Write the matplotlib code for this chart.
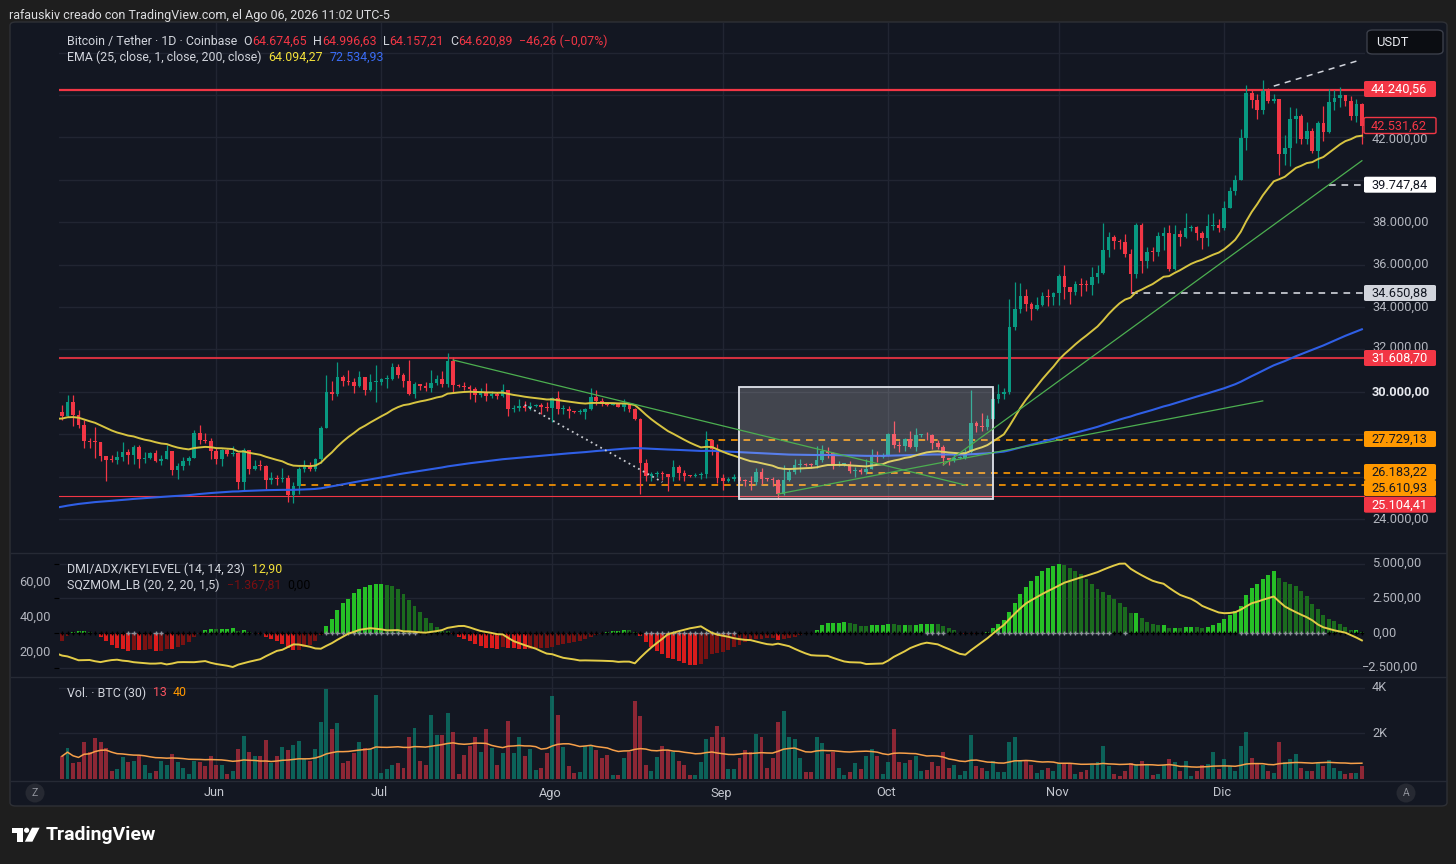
import numpy as np
import pandas as pd
import matplotlib
matplotlib.use("Agg")
import matplotlib.pyplot as plt
from matplotlib.patches import FancyBboxPatch, Rectangle, Polygon, Ellipse
from matplotlib.lines import Line2D

plt.rcParams['font.family'] = ['Roboto', 'DejaVu Sans']

# ---------------------------------------------------------------- data
# warm-up history (not visible, only feeds the indicators) 2023-03-25 .. 2023-05-03
first_open = 27480
warm_close = [27490, 27990, 27130, 27270, 28350, 28030, 28480,
              28460, 28200, 27800, 28170, 28180, 28040, 27920, 27950, 28330, 29650,
              30230, 29890, 30400, 30490, 30320, 30320, 29450, 30400, 28820, 28250,
              27280, 27820, 27590, 27520, 28300, 28420, 29480, 29340, 29250, 29230,
              28070, 28680, 29030]
warm_high = [28200, 28200, 28020, 27500, 28650, 29170, 28650,
             28800, 28530, 28490, 28430, 28750, 28180, 28110, 28170, 28460, 29770,
             30480, 30420, 30590, 31000, 30600, 30540, 30320, 30490, 30430, 29080,
             28360, 27900, 27850, 28000, 28380, 30020, 29890, 29600, 29460, 29970,
             29310, 28880, 29260]
warm_low = [27200, 27400, 26600, 26650, 27250, 27700, 27550,
            28250, 27900, 27250, 27660, 27850, 27740, 27800, 27880, 27800, 28180,
            29600, 29650, 29820, 29970, 30230, 30140, 29290, 29110, 28630, 28000,
            27130, 27150, 27370, 26960, 27220, 27270, 28400, 28900, 29100, 29100,
            27680, 27900, 28140]

# visible daily candles 2023-05-04 .. 2023-12-26
start_date = "2023-05-04"
close = [
    # May 4-31
    28850, 29530, 28900, 28450, 27680, 27640, 27620, 26990, 26800, 26780, 26920, 27180, 27030, 27400,
    26830, 26890, 27120, 26750, 26850, 27220, 26330, 26480, 26720, 26870, 28080, 27750, 27700, 27220,
    # Jun
    26820, 27250, 27070, 27120, 25740, 27240, 26350, 26500, 26480, 25850, 25940, 25900, 25920, 25120, 25580,
    26340, 26510, 26340, 26840, 28310, 30000, 29890, 30690, 30530, 30470, 30270, 30690, 30080, 30450, 30470,
    # Jul
    30590, 30620, 31160, 30770, 30500, 29900, 30350, 30290, 30170, 30420, 30620, 30390, 31470, 30320, 30290,
    30250, 30150, 29860, 29920, 29800, 29910, 29800, 30080, 29180, 29230, 29350, 29220, 29310, 29360, 29280, 29230,
    # Aug
    29700, 29180, 29190, 29110, 29050, 29060, 29180, 29770, 29570, 29430, 29400, 29420, 29300, 29420, 29170,
    28700, 26620, 26050, 26100, 26190, 26130, 25990, 26430, 26170, 26050, 26010, 26090, 26100, 27720, 27300, 25930,
    # Sep
    25800, 25870, 25970, 25810, 25780, 25750, 26240, 25900, 25890, 25830, 25160, 25840, 26220, 26530, 26600,
    26570, 26530, 26760, 27210, 27130, 26570, 26580, 26580, 26250, 26300, 26220, 26370, 27020, 26910, 26970,
    # Oct
    27990, 27500, 27430, 27790, 27410, 27950, 27970, 27940, 27590, 27390, 26870, 26760, 26860, 26860, 27160,
    28520, 28410, 28330, 28720, 29680, 29910, 29990, 33070, 33920, 34500, 34160, 33910, 34090, 34540, 34490, 34660,
    # Nov
    35440, 34940, 34730, 35080, 35050, 35040, 35420, 35620, 36700, 37310, 37130, 37060, 36490, 35550, 37880,
    36160, 36600, 36580, 37370, 37470, 35810, 37420, 37290, 37720, 37790, 37470, 37250, 37830, 37850, 37720,
    # Dec 1-26
    38690, 39460, 39970, 41980, 44080, 43770, 43290, 44170, 43720, 43790, 41240, 41490, 42890, 43020, 41940,
    42280, 41370, 42660, 42270, 43660, 43860, 43990, 43730, 43010, 43580, 42530]
high = [
    29370, 29850, 29840, 29150, 28650, 27830, 28330, 27640, 26970, 27040, 27190, 27650, 27280, 27480,
    27470, 27170, 27150, 27270, 27040, 27480, 27210, 26630, 26930, 26990, 28200, 28450, 28050, 27830,
    27350, 27300, 27300, 27450, 27130, 27360, 27120, 26800, 26770, 26530, 26200, 26090, 26400, 26070, 25750,
    26460, 26780, 26680, 26900, 28400, 30800, 30500, 31400, 30800, 31040, 30650, 31000, 30700, 30830, 31280,
    30660, 30780, 31380, 31330, 30880, 31500, 30450, 30390, 30440, 31040, 30800, 30990, 31820, 31640, 30390,
    30440, 30340, 30240, 30200, 30420, 30060, 29990, 30350, 30100, 29370, 29680, 29570, 29530, 29410, 29450, 29530,
    29740, 30050, 29400, 29320, 29110, 29170, 29240, 30180, 30100, 29700, 29540, 29460, 29450, 29670, 29450,
    29230, 28770, 26820, 26240, 26270, 26250, 26120, 26780, 26550, 26290, 26090, 26170, 26220, 28130, 27750, 27560,
    26130, 25980, 26120, 26090, 25880, 26050, 26410, 26400, 25950, 26000, 25900, 26540, 26400, 26850, 26850,
    26650, 26620, 27420, 27490, 27380, 27160, 26740, 26630, 26730, 26440, 26390, 26830, 27300, 27230, 27090,
    28060, 28600, 27670, 27830, 28130, 28290, 28020, 28100, 27990, 27730, 27480, 26830, 27100, 26960, 27290,
    30100, 28610, 28980, 28920, 30000, 30350, 30200, 34400, 35200, 35130, 34830, 34250, 34480, 34730, 34850, 34720,
    35580, 35980, 34950, 35250, 35380, 35280, 35900, 35990, 37970, 37520, 37410, 37230, 37430, 36750, 37980,
    37940, 36850, 36830, 37530, 37770, 37850, 37880, 37650, 38440, 37880, 37840, 37580, 38400, 38420, 38170,
    38990, 39680, 40220, 42400, 44480, 44300, 44040, 44730, 44350, 44040, 43800, 42100, 43430, 43410, 43090,
    42720, 42430, 42760, 43480, 44290, 44240, 44380, 43990, 43950, 43820, 43600]
low = [
    28670, 28800, 28400, 28300, 27350, 27350, 26870, 26750, 25800, 26700, 26600, 26750, 26580, 26580,
    26400, 26660, 26830, 26680, 26540, 26820, 26080, 25870, 26330, 26570, 26860, 27550, 27570, 26850,
    26600, 26510, 26960, 26960, 25400, 25370, 26130, 26300, 26330, 25400, 25660, 25620, 25740, 24820, 24750,
    25170, 26200, 26280, 26250, 26650, 28270, 29600, 29820, 30260, 30300, 29920, 30220, 29850, 30040, 29520,
    30330, 30200, 30580, 30630, 30210, 29850, 29710, 30080, 30050, 29970, 30300, 30250, 30250, 29960, 30250,
    30080, 29670, 29530, 29760, 29570, 29730, 29650, 29740, 28870, 29070, 29110, 29100, 29120, 29260, 28950, 29100,
    28580, 28950, 28960, 28760, 28980, 28960, 28700, 29120, 29370, 29350, 29340, 29360, 29260, 29100, 29050,
    28690, 25170, 25770, 25800, 25980, 25850, 25330, 25800, 25850, 25780, 25980, 25980, 25870, 25920, 27020, 25700,
    25350, 25760, 25810, 25650, 25580, 25380, 25600, 25650, 25810, 25580, 24920, 25140, 25770, 26130, 26240,
    26480, 26400, 26390, 26680, 26880, 26380, 26500, 26500, 26150, 25990, 26100, 26100, 26340, 26710, 26890,
    26950, 27330, 27180, 27230, 27370, 27200, 27850, 27720, 27300, 27300, 26560, 26550, 26690, 26810, 26820,
    27120, 28100, 28150, 28180, 28670, 29480, 29660, 29900, 32900, 33700, 33800, 33400, 33850, 34050, 34050, 34080,
    34100, 34360, 34120, 34580, 34500, 34750, 34550, 35110, 35540, 36350, 36750, 36730, 36350, 34650, 35360,
    35620, 35850, 36170, 36400, 36700, 35680, 35730, 36880, 37250, 37600, 37150, 36740, 36880, 37630, 37560,
    37620, 38650, 39280, 39970, 41420, 43380, 42850, 43100, 43600, 43600, 40240, 40680, 40660, 41720, 41680,
    41700, 41250, 40540, 41830, 42230, 43300, 43440, 43500, 42800, 42750, 41700]
volume = [
    1000, 1350, 700, 730, 1640, 1200, 1800, 1640, 1350, 360,
    440, 950, 730, 770, 1000, 600, 250, 330, 800, 600,
    1100, 730, 500, 220, 770, 730, 550, 1000, 630, 600,
    200, 330, 1300, 1900, 1200, 1000, 1000, 1700, 700, 1000,
    1400, 1250, 1500, 1650, 900, 800, 1300, 2500, 3950, 2200,
    2450, 700, 800, 1150, 1640, 1350, 1300, 3700, 250, 440,
    630, 700, 500, 1850, 2250, 770, 600, 2800, 1930, 1930,
    2900, 2050, 220, 1060, 1430, 1820, 1200, 2200, 1350, 600,
    1130, 2550, 1130, 1820, 1000, 1300, 400, 480, 1130, 3650,
    2800, 1380, 550, 250, 300, 1430, 1450, 1250, 900, 1030,
    190, 190, 900, 1200, 3400, 2760, 600, 360, 950, 1430,
    1250, 1180, 800, 600, 160, 160, 740, 1760, 1860, 2300,
    1860, 440, 440, 900, 1250, 1200, 1960, 1850, 480, 900,
    2500, 3000, 1820, 1760, 900, 300, 300, 1850, 1570, 1100,
    1180, 480, 160, 300, 700, 450, 1000, 1320, 1000, 220,
    730, 2200, 740, 700, 840, 1000, 360, 400, 730, 550,
    1200, 480, 630, 160, 330, 1930, 550, 480, 330, 800,
    300, 300, 1640, 1820, 770, 840, 630, 260, 400, 500,
    330, 700, 700, 700, 220, 300, 400, 630, 740, 1430,
    550, 220, 150, 360, 700, 650, 800, 630, 160, 220,
    630, 890, 740, 330, 800, 120, 360, 630, 650, 1180,
    450, 890, 550, 360, 1430, 2050, 900, 700, 630, 330,
    250, 1640, 740, 890, 1100, 500, 360, 330, 700, 550,
    840, 500, 360, 220, 250, 250, 550]

month_labels = ["Jun", "Jul", "Ago", "Sep", "Oct", "Nov", "Dic"]
month_dates = ["2023-06-01", "2023-07-01", "2023-08-01", "2023-09-01",
               "2023-10-01", "2023-11-01", "2023-12-01"]

red_levels = [44240.56, 31608.70, 25104.41]
orange_levels = [27729.13, 26183.22, 25610.93]
orange_from = ["2023-08-29", "2023-09-27", "2023-06-16"]
white_levels = [34650.88, 39747.84]
white_from = ["2023-11-14", "2023-12-20"]
green_lines = [(("2023-07-14", 31500), ("2023-10-15", 25600)),
               (("2023-09-11", 25180), ("2023-12-08", 29570)),
               (("2023-10-11", 26550), ("2023-12-26", 40900))]
dotted_line = (("2023-07-27", 29380), ("2023-08-21", 25740))
dashed_top = (("2023-12-10", 44420), ("2023-12-25", 45620))
box_dates = ("2023-09-04", "2023-10-20")
box_prices = (24940, 30230)
ema200_seed = 22500
# price-scale labels that stay readable next to the coloured tags
price_ticks = [24000, 30000, 32000, 34000, 36000, 38000, 42000]

# ---------------------------------------------------------------- helpers
W, HP = 1456, 864
RED, GREEN = '#f23645', '#089981'
BG = '#131722'
TXT = '#b2b5be'
AXFS = 9.2


def didx(d):
    return (pd.Timestamp(d) - pd.Timestamp(start_date)).days


def fmt(v, dec=2):
    s = f"{abs(v):,.{dec}f}".replace(",", "X").replace(".", ",").replace("X", ".")
    return ("\u2212" + s) if v < 0 else s


def fx(x):
    return x / W


def fy(y):
    return 1 - y / HP


fig = plt.figure(figsize=(W / 100, HP / 100), dpi=100)
fig.patch.set_facecolor('#1e1e1e')
renderer = fig.canvas.get_renderer()


def add_axes_px(x0, y0, x1, y1):
    a = fig.add_axes([fx(x0), fy(y1), (x1 - x0) / W, (y1 - y0) / HP])
    a.set_facecolor('none')
    for s in a.spines.values():
        s.set_visible(False)
    a.tick_params(left=False, right=False, bottom=False, top=False,
                  labelleft=False, labelbottom=False, labelright=False)
    return a


def ftext(x, y, s, **kw):
    kw.setdefault('va', 'center')
    kw.setdefault('ha', 'left')
    kw.setdefault('fontsize', AXFS)
    kw.setdefault('color', TXT)
    return fig.text(fx(x), fy(y), s, **kw)


def seq_text(x, y, parts, size):
    for s, c, gap in parts:
        t = ftext(x, y, s, color=c, fontsize=size)
        x += t.get_window_extent(renderer).width + gap


def fbox(x0, y0, x1, y1, fc, ec='none', lw=0, r=0.0015, z=5):
    p = FancyBboxPatch((fx(x0), fy(y1)), (x1 - x0) / W, (y1 - y0) / HP,
                       boxstyle=f'round,pad=0,rounding_size={r}', fc=fc, ec=ec, lw=lw,
                       transform=fig.transFigure, zorder=z)
    fig.add_artist(p)


# chart frame
fbox(10, 22, 1447, 806, BG, ec='#2e3036', lw=1.0, r=0.004, z=-10)

# ---------------------------------------------------------------- arrays
C_all = np.array(warm_close + close, float)
H_all = np.array(warm_high + high, float)
L_all = np.array(warm_low + low, float)
O_all = np.concatenate([[first_open], C_all[:-1]])
H_all = np.maximum(H_all, np.maximum(O_all, C_all))
L_all = np.minimum(L_all, np.minimum(O_all, C_all))
nw = len(warm_close)
x_all = np.arange(len(C_all)) - nw
vis = x_all >= 0
xs = x_all[vis]
O, H, L, Cc = O_all[vis], H_all[vis], L_all[vis], C_all[vis]
up = Cc >= O

# indicators
ema25 = pd.Series(C_all).ewm(span=25, adjust=False).mean().values
ema200 = np.empty_like(C_all)
e = ema200_seed
for i, c in enumerate(C_all):
    e = e + 2.0 / 201.0 * (c - e)
    ema200[i] = e

prevC = np.concatenate([[C_all[0]], C_all[:-1]])
tr = np.maximum.reduce([H_all - L_all, np.abs(H_all - prevC), np.abs(L_all - prevC)])


def rma(v, n):
    return pd.Series(v).ewm(alpha=1.0 / n, adjust=False).mean().values


upm = np.diff(H_all, prepend=H_all[0])
dnm = -np.diff(L_all, prepend=L_all[0])
pdm = np.where((upm > dnm) & (upm > 0), upm, 0.0)
mdm = np.where((dnm > upm) & (dnm > 0), dnm, 0.0)
atr = rma(tr, 14)
pdi = 100 * rma(pdm, 14) / atr
mdi = 100 * rma(mdm, 14) / atr
den = np.where(pdi + mdi == 0, 1, pdi + mdi)
adx = rma(100 * np.abs(pdi - mdi) / den, 14)

n = 20
sC = pd.Series(C_all)
basis = sC.rolling(n).mean()
dev = 1.5 * sC.rolling(n).std(ddof=0)
rangema = pd.Series(tr).rolling(n).mean()
upKC, loKC = basis + 1.5 * rangema, basis - 1.5 * rangema
upBB, loBB = basis + dev, basis - dev
sqz_on = ((loBB > loKC) & (upBB < upKC)).values
sqz_off = ((loBB < loKC) & (upBB > upKC)).values
hh = pd.Series(H_all).rolling(n).max()
ll = pd.Series(L_all).rolling(n).min()
delta = sC - ((hh + ll) / 2 + basis) / 2
xx = np.arange(n)


def lr_last(y):
    b, a = np.polyfit(xx, y, 1)
    return a + b * (n - 1)


val = delta.rolling(n).apply(lr_last, raw=True).values
prev_val = np.concatenate([[0.0], np.nan_to_num(val[:-1])])
hist_col = np.where(val > 0, np.where(val > prev_val, '#26c026', '#1b6b1e'),
                    np.where(val < prev_val, '#d91c1c', '#7a1212'))

vol = np.array(volume, float)
vol_ma = pd.Series(vol).rolling(30, min_periods=1).mean().values

# ---------------------------------------------------------------- geometry
X0PX, DX = 62.0, 5.508
XL = ((59 - X0PX) / DX, (1365 - X0PX) / DX)
PY0, PK = 519.0, 0.0212           # price 24000 at y=519, px per unit
def py(p):
    return PY0 - (p - 24000) * PK
YL_MAIN = (24000 - (552 - PY0) / PK, 24000 + (PY0 - 23) / PK)
month_idx = [didx(d) for d in month_dates]
GRID = '#212532'

# ---------------------------------------------------------------- main pane
ax = add_axes_px(59, 23, 1365, 552)
ax.set_xlim(*XL)
ax.set_ylim(*YL_MAIN)
ax.set_yticks(np.arange(24000, 48000, 2000))
ax.set_xticks(month_idx)
ax.grid(True, color=GRID, lw=1.0)
ax.set_axisbelow(True)

ax.axhline(red_levels[0], color=RED, lw=1.6, zorder=2)
ax.axhline(red_levels[1], color='#d3303f', lw=1.5, zorder=2)
ax.axhline(red_levels[2], color=RED, lw=0.8, zorder=2)
for lv, d in zip(orange_levels, orange_from):
    ax.hlines(lv, didx(d), XL[1], color='#ff9800', lw=1.2, ls=(0, (4, 3.5)), zorder=2)
for lv, d in zip(white_levels, white_from):
    ax.hlines(lv, didx(d), XL[1], color='#d1d4dc', lw=1.2, ls=(0, (4, 3.5)), zorder=2)

col = np.where(up, GREEN, RED)
ax.vlines(xs, L, H, colors=col, lw=0.9, zorder=3)
ax.bar(xs, np.maximum(np.abs(Cc - O), 45), bottom=np.minimum(O, Cc), width=0.66,
       color=col, lw=0, zorder=3)

ax.plot(x_all, ema200, color='#2f5fe6', lw=1.5, zorder=4)
ax.plot(x_all, ema25, color='#d7c441', lw=1.4, zorder=4)

bx0, bx1 = didx(box_dates[0]) - 0.1, didx(box_dates[1])
ax.add_patch(Rectangle((bx0, box_prices[0]), bx1 - bx0, box_prices[1] - box_prices[0],
                       fc=(1, 1, 1, 0.2), ec='#e0e3eb', lw=1.3, zorder=5))

for (d0, p0), (d1, p1) in green_lines:
    ax.plot([didx(d0), didx(d1)], [p0, p1], color='#4caf50', lw=0.9, zorder=6)
(d0, p0), (d1, p1) = dotted_line
ax.plot([didx(d0), didx(d1)], [p0, p1], color='#c8cad0', lw=1.3, ls=(0, (1, 2)), zorder=6)
(d0, p0), (d1, p1) = dashed_top
ax.plot([didx(d0), didx(d1) + 0.3], [p0, p1], color='#d1d4dc', lw=1.1, ls=(0, (4, 3.5)), zorder=6)

# price scale labels (nudged clear of the coloured tags)
nudge = {32000: -2.5, 42000: 2.0}
for p in price_ticks:
    y = py(p) + nudge.get(p, 0.0)
    if p == 30000:
        ftext(1372, y, fmt(p), color='#e6e8ee', fontweight='bold')
    else:
        ftext(1372, y, fmt(p))

tags = [(89, fmt(red_levels[0]), RED, 'white', None),
        (125.5, fmt(42531.62), BG, RED, RED),
        (184.7, fmt(white_levels[1]), '#ffffff', '#131722', None),
        (293, fmt(white_levels[0]), '#d1d4dc', '#131722', None),
        (358, fmt(red_levels[1]), RED, 'white', None),
        (439, fmt(orange_levels[0]), '#ff9800', '#131722', None),
        (472, fmt(orange_levels[1]), '#ff9800', '#131722', None),
        (488, fmt(orange_levels[2]), '#ff9800', '#131722', None),
        (504.7, fmt(red_levels[2]), RED, 'white', None)]
for yc, s, fc, tc, ec in tags:
    fbox(1364, yc - 8, 1436, yc + 8, fc, ec=ec if ec else 'none', lw=1.0 if ec else 0, z=6)
    t = ftext(1371, yc + 0.3, s, color=tc)
    t.set_zorder(7)

fbox(1367, 30, 1443, 54, '#0b0d12', ec='#3b3f4a', lw=1.0, r=0.004, z=6)
ftext(1376, 42, "USDT", color='#e8eaef', fontsize=9.4).set_zorder(7)

# legends
seq_text(67, 41.7, [("Bitcoin / Tether \u00b7 1D \u00b7 Coinbase", '#d1d4dc', 6),
                    ("O", '#d1d4dc', 0.5), ("64.674,65", RED, 6),
                    ("H", '#d1d4dc', 0.5), ("64.996,63", RED, 6),
                    ("L", '#d1d4dc', 0.5), ("64.157,21", RED, 6),
                    ("C", '#d1d4dc', 0.5), ("64.620,89", RED, 6),
                    ("\u221246,26 (\u22120,07%)", RED, 0)], 8.9)
seq_text(67, 57.7, [("EMA (25, close, 1, close, 200, close)", '#d1d4dc', 7),
                    ("64.094,27", '#f2e03a', 6), ("72.534,93", '#3a6cf4', 0)], 8.9)

# ---------------------------------------------------------------- indicator pane
IZ0, IK = 633.0, 0.01388
ax_i = add_axes_px(59, 553, 1365, 676)
ax_i.set_xlim(*XL)
ax_i.set_ylim((IZ0 - 676) / IK, (IZ0 - 553) / IK)
ax_i.set_yticks([-2500, 0, 2500, 5000])
ax_i.set_xticks(month_idx)
ax_i.grid(True, color=GRID, lw=1.0)
ax_i.set_axisbelow(True)
ax_i.bar(xs, val[vis], width=0.72, color=hist_col[vis], lw=0, zorder=3)
cross_col = np.where(sqz_on, '#000000', np.where(sqz_off, '#8d9099', '#2962ff'))[vis]
ax_i.scatter(xs, np.zeros(len(xs)), marker='+', s=10, c=cross_col, lw=1.0, zorder=4)

ax_a = ax_i.twinx()
ax_a.set_facecolor('none')
for s in ax_a.spines.values():
    s.set_visible(False)
ax_a.tick_params(left=False, right=False, labelleft=False, labelright=False)
ax_a.set_xlim(*XL)
AZ0, AK = 687.0, 1.75
ax_a.set_ylim((AZ0 - 676) / AK, (AZ0 - 553) / AK)
ax_a.plot(x_all, adx, color='#e3cc47', lw=1.4, zorder=5)

for v in [5000, 2500, 0, -2500]:
    ftext(1372 if v >= 0 else 1362, IZ0 - v * IK, fmt(v))
for v in [60, 40, 20]:
    ftext(51, AZ0 - v * AK, fmt(v), ha='right')
seq_text(67, 569, [("DMI/ADX/KEYLEVEL (14, 14, 23)", '#d1d4dc', 7), ("12,90", '#f2e03a', 0)], 8.9)
seq_text(67, 585, [("SQZMOM_LB (20, 2, 20, 1,5)", '#d1d4dc', 7), ("\u22121.367,81", '#7a0f12', 6),
                   ("0,00", '#000000', 0)], 8.9)

# ---------------------------------------------------------------- volume pane
VZ0, VK = 779.0, 0.02283
ax_v = add_axes_px(59, 678, 1365, 780)
ax_v.set_xlim(*XL)
ax_v.set_ylim((VZ0 - 780) / VK, (VZ0 - 678) / VK)
ax_v.set_yticks([2000, 4000])
ax_v.set_xticks(month_idx)
ax_v.grid(True, color=GRID, lw=1.0)
ax_v.set_axisbelow(True)
vcol = np.where(up[:, None], np.array([8 / 255, 153 / 255, 129 / 255, 0.58]),
                np.array([242 / 255, 54 / 255, 69 / 255, 0.55]))
ax_v.bar(xs, vol, width=0.72, color=[tuple(r) for r in vcol], lw=0, zorder=3)
ax_v.plot(xs, vol_ma, color='#f7a04a', lw=1.1, zorder=4)
ftext(1372, VZ0 - 4000 * VK, "4K")
ftext(1372, VZ0 - 2000 * VK, "2K")
seq_text(67, 693, [("Vol. \u00b7 BTC (30)", '#d1d4dc', 7), ("13", '#f7525f', 6), ("40", '#ff9800', 0)], 8.9)

# pane separators
for yy in (552.5, 677.0, 780.5):
    fig.add_artist(Line2D([fx(11), fx(1446)], [fy(yy), fy(yy)], color='#262a35', lw=1.0,
                          transform=fig.transFigure, zorder=1))

# time axis
for lab, d in zip(month_labels, month_dates):
    ftext(X0PX + didx(d) * DX - 2, 793, lab, ha='center', fontsize=9.2, color='#c4c7cf')
for cx, letter in ((35, "Z"), (1406, "A")):
    fig.add_artist(Ellipse((fx(cx), fy(793)), 19 / W, 19 / HP, fc='#262932', ec='none',
                           transform=fig.transFigure, zorder=5))
    ftext(cx, 793, letter, ha='center', fontsize=7.5, color='#8f929b').set_zorder(6)

# caption
ftext(9, 15.5, "rafauskiv creado con TradingView.com, el Ago 06, 2026 11:02 UTC-5",
      color='#dcdde0', fontsize=9)

# TradingView logo
def poly(pts, **kw):
    fig.add_artist(Polygon([(fx(a), fy(b)) for a, b in pts], closed=True,
                           transform=fig.transFigure, **kw))

poly([(11.6, 827.7), (22.5, 827.7), (22.5, 841.7), (17.2, 841.7), (17.2, 832.8), (11.6, 832.8)],
     fc='white', ec='none')
th = np.linspace(0, 2 * np.pi, 30)
poly(list(zip(26.6 + 2.6 * np.cos(th), 830.3 + 2.6 * np.sin(th))), fc='white', ec='none')
poly([(32.0, 827.7), (39.6, 827.7), (32.4, 841.7), (24.8, 841.7)], fc='white', ec='none')
ftext(46, 835, "TradingView", color='white', fontsize=14, fontweight='bold')

fig.savefig("out.png", dpi=100, facecolor=fig.get_facecolor())
